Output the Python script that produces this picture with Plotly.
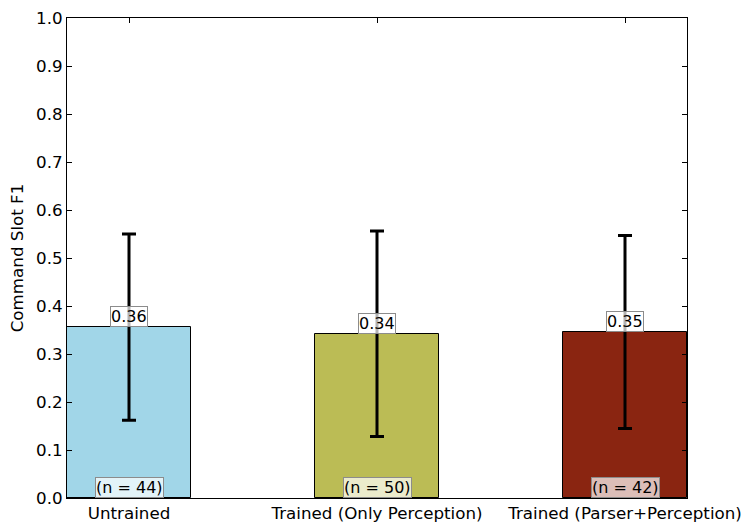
import plotly.graph_objects as go

categories = ["Untrained", "Trained (Only Perception)", "Trained (Parser+Perception)"]
means = [0.356, 0.342, 0.346]
errors = [0.194, 0.214, 0.201]
value_labels = ["0.36", "0.34", "0.35"]
n_labels = ["(n = 44)", "(n = 50)", "(n = 42)"]
colors = ["#a1d6e8", "#bbbc55", "#8a2511"]
y_ticks = [0.0, 0.1, 0.2, 0.3, 0.4, 0.5, 0.6, 0.7, 0.8, 0.9, 1.0]

FONT = "DejaVu Sans"
FS = 16.7
xpos = list(range(len(categories)))

fig = go.Figure()
fig.add_trace(go.Bar(
    x=xpos, y=means, width=0.5,
    marker=dict(color=colors, line=dict(color="black", width=1)),
    error_y=dict(type="data", array=errors, visible=True,
                 color="black", thickness=3, width=7),
    showlegend=False,
))

annotations = []
for i in range(len(categories)):
    for yv, txt in ((means[i], value_labels[i]), (0, n_labels[i])):
        annotations.append(dict(
            x=xpos[i], y=yv, xref="x", yref="y", text=txt,
            showarrow=False, yanchor="bottom", xanchor="center",
            font=dict(family=FONT, size=16, color="black"),
            bgcolor="rgba(255,255,255,0.7)", bordercolor="#8c8c8c",
            borderwidth=1, borderpad=0,
        ))

fig.update_layout(
    width=753, height=532,
    margin=dict(l=67, r=66, t=18, b=34),
    plot_bgcolor="white", paper_bgcolor="white",
    font=dict(family=FONT, size=FS, color="black"),
    bargap=0,
    annotations=annotations,
    xaxis=dict(
        range=[-0.25, 2.25], tickmode="array", tickvals=xpos, ticktext=categories,
        ticks="inside", ticklen=5, tickcolor="black", tickwidth=1,
        showline=True, linecolor="black", linewidth=1, mirror="ticks",
        showgrid=False, zeroline=False, layer="below traces", automargin=False,
        tickfont=dict(family=FONT, size=FS),
    ),
    yaxis=dict(
        range=[0, 1], tickmode="array", tickvals=y_ticks,
        ticktext=[f"{v:.1f}" for v in y_ticks],
        ticks="inside", ticklen=5, tickcolor="black", tickwidth=1,
        showline=True, linecolor="black", linewidth=1, mirror="ticks",
        showgrid=False, zeroline=False, automargin=False,
        tickfont=dict(family=FONT, size=FS),
        title=dict(text="Command Slot F1", font=dict(family=FONT, size=FS), standoff=8),
    ),
)

fig.write_html("out.html")
